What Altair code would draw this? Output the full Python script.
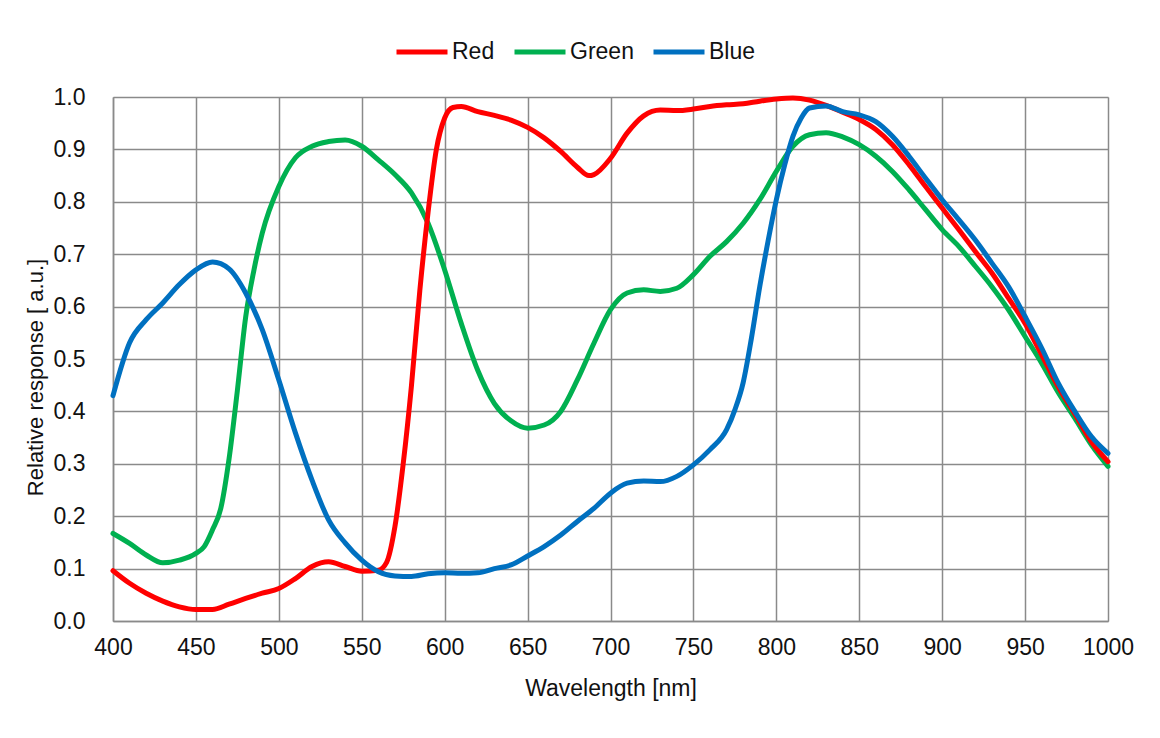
import altair as alt
import pandas as pd

# ---- data ----
red_nm = [400, 410, 420, 430, 440, 450, 460, 470, 480, 490, 500, 510, 520, 530, 540, 550, 560, 565,
          570, 575, 580, 585, 590, 595, 600, 605, 610, 620, 630, 640, 650, 660, 670, 680, 687, 690,
          700, 710, 720, 730, 740, 750, 760, 770, 780, 790, 800, 810, 820, 830, 840, 850, 860, 870,
          880, 890, 900, 910, 920, 930, 940, 950, 960, 970, 980, 990, 1000]
red_val = [0.096, 0.072, 0.053, 0.038, 0.027, 0.022, 0.022, 0.032, 0.043, 0.053, 0.062, 0.081, 0.104,
           0.113, 0.104, 0.095, 0.097, 0.112, 0.18, 0.30, 0.45, 0.63, 0.78, 0.90, 0.96, 0.98, 0.982,
           0.972, 0.965, 0.956, 0.942, 0.922, 0.896, 0.866, 0.850, 0.852, 0.883, 0.931, 0.964, 0.975,
           0.974, 0.977, 0.982, 0.985, 0.987, 0.992, 0.996, 0.998, 0.994, 0.984, 0.971, 0.957, 0.938,
           0.909, 0.871, 0.829, 0.788, 0.747, 0.705, 0.664, 0.616, 0.568, 0.508, 0.447, 0.395, 0.342,
           0.304]

green_nm = [400, 410, 420, 430, 440, 450, 455, 460, 465, 470, 475, 480, 485, 490, 500, 510, 520, 530,
            540, 550, 560, 570, 580, 590, 600, 610, 620, 630, 640, 650, 660, 670, 680, 690, 700, 710,
            720, 730, 740, 750, 760, 770, 780, 790, 800, 810, 820, 830, 840, 850, 860, 870, 880, 890,
            900, 910, 920, 930, 940, 950, 960, 970, 980, 990, 1000]
green_val = [0.167, 0.148, 0.126, 0.111, 0.116, 0.129, 0.142, 0.174, 0.215, 0.31, 0.44, 0.58, 0.67,
             0.74, 0.829, 0.884, 0.906, 0.915, 0.918, 0.906, 0.880, 0.852, 0.817, 0.759, 0.670, 0.568,
             0.478, 0.415, 0.382, 0.368, 0.374, 0.40, 0.46, 0.53, 0.594, 0.626, 0.632, 0.629, 0.635,
             0.661, 0.696, 0.724, 0.759, 0.804, 0.858, 0.906, 0.928, 0.932, 0.924, 0.909, 0.887, 0.858,
             0.823, 0.785, 0.747, 0.715, 0.677, 0.638, 0.594, 0.543, 0.492, 0.436, 0.387, 0.336, 0.295]

blue_nm = [400, 410, 420, 430, 440, 450, 460, 470, 480, 490, 500, 510, 520, 530, 540, 550, 560, 570,
           580, 590, 600, 610, 620, 630, 640, 650, 660, 670, 680, 690, 700, 710, 720, 730, 740, 750,
           760, 770, 775, 780, 785, 790, 795, 800, 805, 810, 815, 820, 830, 840, 850, 860, 870, 880,
           890, 900, 910, 920, 930, 940, 950, 960, 970, 980, 990, 1000]
blue_val = [0.43, 0.531, 0.575, 0.607, 0.642, 0.670, 0.685, 0.672, 0.626, 0.556, 0.46, 0.359, 0.269,
            0.193, 0.149, 0.116, 0.094, 0.086, 0.085, 0.090, 0.092, 0.091, 0.092, 0.10, 0.107, 0.124,
            0.142, 0.164, 0.19, 0.215, 0.244, 0.263, 0.267, 0.266, 0.276, 0.298, 0.327, 0.365, 0.403,
            0.455, 0.54, 0.638, 0.725, 0.804, 0.87, 0.925, 0.96, 0.979, 0.983, 0.972, 0.966, 0.953,
            0.925, 0.887, 0.845, 0.804, 0.766, 0.727, 0.683, 0.638, 0.581, 0.521, 0.454, 0.40, 0.352,
            0.32]

series_names = ["Red", "Green", "Blue"]
series_colors = ["#FF0000", "#00B050", "#0070C0"]
x_ticks = [400, 450, 500, 550, 600, 650, 700, 750, 800, 850, 900, 950, 1000]
y_ticks = [0.0, 0.1, 0.2, 0.3, 0.4, 0.5, 0.6, 0.7, 0.8, 0.9, 1.0]

rows = []
for name, xs, ys in [("Red", red_nm, red_val), ("Green", green_nm, green_val), ("Blue", blue_nm, blue_val)]:
    for a, b in zip(xs, ys):
        rows.append({"series": name, "nm": a, "value": b})
df = pd.DataFrame(rows)

FONT = "Liberation Sans"
GRID = "#8a8a8a"
TXT = "#111111"
FS = 23

color = alt.Color(
    "series:N",
    scale=alt.Scale(domain=series_names, range=series_colors),
    legend=alt.Legend(
        orient="none", legendX=281, legendY=-73, direction="horizontal", title=None,
        symbolType="stroke", symbolSize=2601, symbolStrokeWidth=5,
        labelFontSize=FS, labelFont=FONT, labelColor=TXT, labelOffset=2,
        columnPadding=9, padding=0,
    ),
)

x = alt.X(
    "nm:Q",
    scale=alt.Scale(domain=[400, 1000], nice=False, zero=False),
    axis=alt.Axis(
        values=x_ticks, title="Wavelength [nm]", format="d", labelFlush=False,
        labelFont=FONT, labelFontSize=FS, labelColor=TXT, labelPadding=15,
        ticks=False, tickSize=0, domainColor=GRID, domainWidth=1.5,
        gridColor=GRID, gridWidth=1.5,
        titleFont=FONT, titleFontSize=FS, titleColor=TXT, titleFontWeight="normal",
        titleX=497.5, titleY=74, titleBaseline="alphabetic", titleAlign="center",
    ),
)
y = alt.Y(
    "value:Q",
    scale=alt.Scale(domain=[0, 1], nice=False),
    axis=alt.Axis(
        values=y_ticks, format=".1f", title="Relative response [ a.u.]", labelFlush=False,
        labelFont=FONT, labelFontSize=FS, labelColor=TXT, labelPadding=28,
        ticks=False, tickSize=0, domainColor=GRID, domainWidth=1.5,
        gridColor=GRID, gridWidth=1.5,
        titleFont=FONT, titleFontSize=22, titleColor=TXT, titleFontWeight="normal",
        titleX=-71, titleY=280, titleAngle=270, titleBaseline="alphabetic", titleAlign="center",
    ),
)

base = alt.Chart(df).mark_line(
    strokeWidth=5, interpolate="monotone", strokeCap="round", strokeJoin="round"
).encode(x=x, y=y, color=color)

layers = [base.transform_filter(alt.datum.series == s) for s in ["Green", "Red", "Blue"]]

chart = alt.layer(*layers).properties(
    width=995, height=524,
    autosize=alt.AutoSizeParams(type="none"),
    padding={"left": 105, "top": 89, "right": 40, "bottom": 90},
).configure_view(stroke=None).configure(background="white")

chart.save("out.html", embed_options={"renderer": "svg", "actions": False})
